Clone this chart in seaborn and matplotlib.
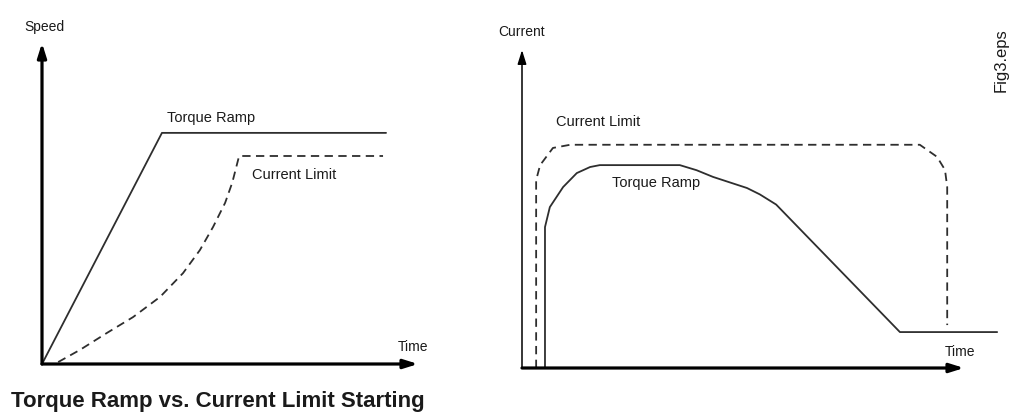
import matplotlib
matplotlib.use("Agg")
import matplotlib.pyplot as plt
import seaborn as sns
import pandas as pd

# Motor starting: speed vs. time (left) and current vs. time (right)
speed_torque_time = [0.0, 31.9, 91.5]
speed_torque_val = [0.0, 72.0, 72.0]

speed_limit_time = [4.3, 10.1, 17.3, 24.2, 31.4, 37.5, 42.0, 45.5, 48.7, 50.6, 51.7, 52.2, 52.5, 90.7]
speed_limit_val = [0.6, 4.4, 9.7, 14.6, 20.9, 28.3, 35.5, 42.7, 50.2, 56.5, 61.5, 63.8, 64.8, 64.8]

current_limit_time = [3.2, 3.2, 4.1, 7.0, 10.9, 90.0, 93.9, 95.7, 96.2, 96.2]
current_limit_val = [0.0, 59.1, 63.8, 69.2, 70.2, 70.2, 66.4, 62.3, 56.9, 13.5]

current_torque_time = [5.2, 5.2, 6.3, 9.3, 12.4, 15.4, 17.6, 35.7, 39.5, 43.2, 50.9, 53.8, 57.5, 85.5, 107.5]
current_torque_val = [0.0, 44.3, 50.6, 56.9, 61.3, 63.2, 63.8, 63.8, 62.2, 60.1, 56.6, 54.6, 51.4, 11.3, 11.3]

sns.set_theme(style="white")
plt.rcParams["font.family"] = ["Liberation Sans", "DejaVu Sans"]

W, H = 1010, 416
fig = plt.figure(figsize=(W / 100, H / 100), dpi=100)
fig.patch.set_facecolor("white")


def px_axes(x0, y0, x1, y1):
    """Axes whose origin sits at pixel (x0, y0) and whose far corner is (x1, y1)."""
    ax = fig.add_axes([x0 / W, 1 - y0 / H, (x1 - x0) / W, (y0 - y1) / H])
    ax.set_xlim(0, 100)
    ax.set_ylim(0, 100)
    ax.set_axis_off()
    return ax


def arrow_axes(ax, lw_x, lw_y):
    head = "-|>,head_length=0.7,head_width=0.22"
    ax.annotate("", xy=(1, 0), xytext=(0, 0), xycoords="axes fraction",
                arrowprops=dict(arrowstyle=head, lw=lw_x, color="black",
                                shrinkA=0, shrinkB=0, mutation_scale=12))
    ax.annotate("", xy=(0, 1), xytext=(0, 0), xycoords="axes fraction",
                arrowprops=dict(arrowstyle=head, lw=lw_y, color="black",
                                shrinkA=0, shrinkB=0, mutation_scale=12))


def ftext(x, y, s, **kw):
    fig.text(x / W, 1 - y / H, s, ha="center", va="center", color="#1a1a1a", **kw)


line_color = "#2e2e2e"
dash = (0, (4.6, 3.0))

# Left panel: speed
ax1 = px_axes(42, 364, 418, 43)
sns.lineplot(data=pd.DataFrame({"t": speed_torque_time, "v": speed_torque_val}),
             x="t", y="v", sort=False, estimator=None, ax=ax1,
             color=line_color, lw=1.3, clip_on=False)
sns.lineplot(data=pd.DataFrame({"t": speed_limit_time, "v": speed_limit_val}),
             x="t", y="v", sort=False, estimator=None, ax=ax1,
             color=line_color, lw=1.3, linestyle=dash, clip_on=False)
ax1.set_axis_off()
arrow_axes(ax1, 2.3, 2.3)

# Right panel: current
ax2 = px_axes(522, 368, 964, 50)
sns.lineplot(data=pd.DataFrame({"t": current_limit_time, "v": current_limit_val}),
             x="t", y="v", sort=False, estimator=None, ax=ax2,
             color=line_color, lw=1.3, linestyle=dash, clip_on=False)
sns.lineplot(data=pd.DataFrame({"t": current_torque_time, "v": current_torque_val}),
             x="t", y="v", sort=False, estimator=None, ax=ax2,
             color=line_color, lw=1.3, clip_on=False)
ax2.set_axis_off()
arrow_axes(ax2, 2.3, 1.1)

# Labels
ftext(44, 27, "Speed", fontsize=10)
ftext(413, 347, "Time", fontsize=10)
ftext(211, 118, "Torque Ramp", fontsize=10.5)
ftext(294, 175, "Current Limit", fontsize=10.5)

ftext(522, 32, "Current", fontsize=10)
ftext(960, 352, "Time", fontsize=10)
ftext(598, 122, "Current Limit", fontsize=10.5)
ftext(656, 183, "Torque Ramp", fontsize=10.5)

ftext(218, 402, "Torque Ramp vs. Current Limit Starting", fontsize=16, fontweight="bold")
ftext(1001, 60, "Fig3.eps", fontsize=12, rotation=90)

fig.savefig("out.png", dpi=100, facecolor="white")
